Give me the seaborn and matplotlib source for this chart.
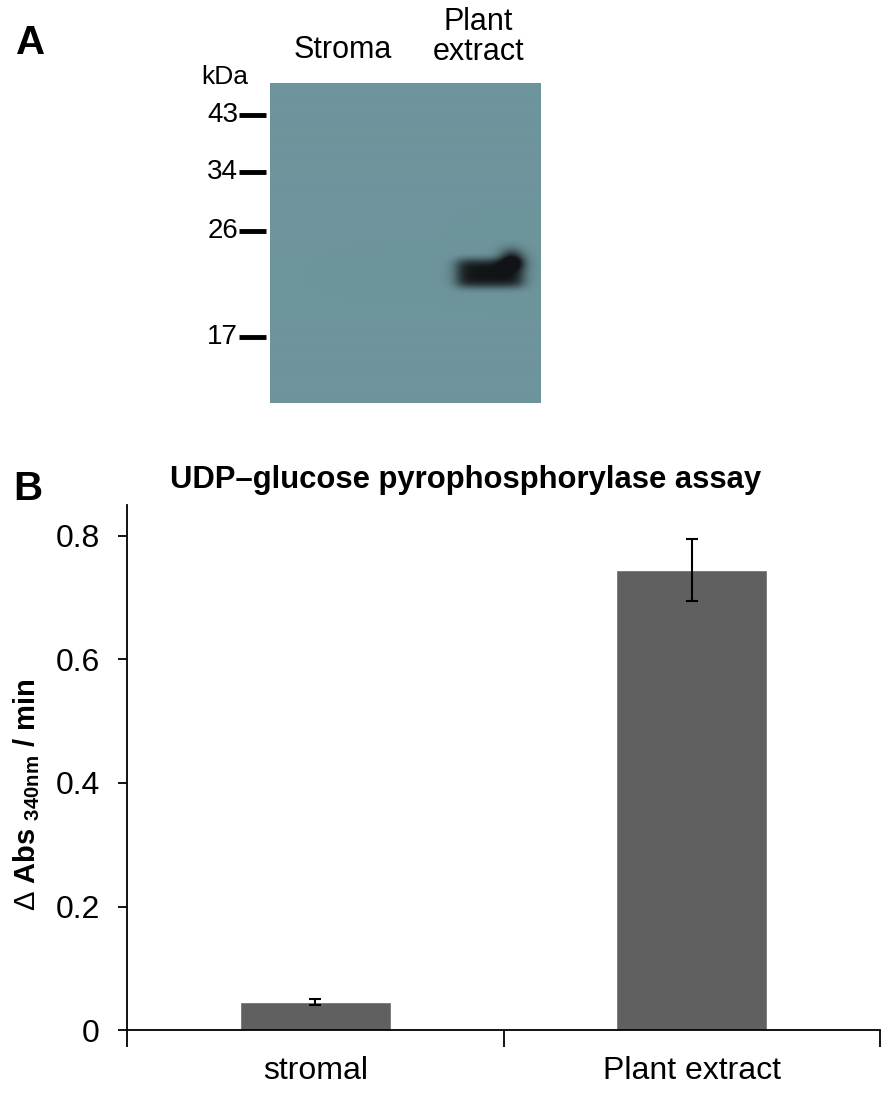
import numpy as np
import pandas as pd
import seaborn as sns
import matplotlib.pyplot as plt

# -------------------------------------------------------------------
# Data
# -------------------------------------------------------------------

# Panel A: western blot
lanes = ["Stroma", "Plant\nextract"]
marker_kda = [43, 34, 26, 17]
# migration distance of the markers as fraction of gel height (from top)
marker_migration = [0.10, 0.278, 0.462, 0.793]
band_lane = 1
band_migration = 0.594

# Panel B: UGPase assay
categories = ["stromal", "Plant extract"]
activity = [0.045, 0.745]
activity_err = [0.005, 0.05]

# -------------------------------------------------------------------
# Style
# -------------------------------------------------------------------

sns.set_style("ticks")
plt.rcParams["font.family"] = ["Liberation Sans", "DejaVu Sans"]
plt.rcParams["text.color"] = "black"
plt.rcParams["axes.labelcolor"] = "black"
plt.rcParams["xtick.color"] = "black"
plt.rcParams["ytick.color"] = "black"
plt.rcParams["axes.edgecolor"] = "black"
plt.rcParams["mathtext.fontset"] = "custom"
plt.rcParams["mathtext.rm"] = "Liberation Sans"
plt.rcParams["mathtext.bf"] = "Liberation Sans:bold"

fig = plt.figure(figsize=(8.92, 10.93), dpi=100)

# -------------------------------------------------------------------
# Panel A: blot
# -------------------------------------------------------------------

ax_blot = fig.add_axes([0.3027, 0.6313, 0.3038, 0.2928])

# build a blot image: flat background and one dark band
ny, nx = 320, 271
yy, xx = np.mgrid[0:ny, 0:nx] / np.array([ny, nx])[:, None, None]
lane_centres = np.array([0.27, 0.80])
bx = lane_centres[band_lane]
band = (1 / (1 + np.exp(-(xx - (bx - 0.11)) / 0.015))) \
    * (1 / (1 + np.exp((xx - (bx + 0.13)) / 0.015))) \
    * np.exp(-((yy - band_migration) / 0.045) ** 4)
bump = np.exp(-((xx - (bx + 0.09)) / 0.045) ** 2 - ((yy - (band_migration - 0.045)) / 0.03) ** 2)
band = np.clip(band + 0.85 * bump, 0, 1)
bg = np.array([0x6e, 0x94, 0x9c]) / 255
dark = np.array([0.07, 0.08, 0.09])
img = bg[None, None, :] * (1 - band[..., None]) + dark[None, None, :] * band[..., None]
ax_blot.imshow(img, extent=[0, 1, 1, 0], aspect="auto")
ax_blot.set_xlim(0, 1)
ax_blot.set_ylim(1, 0)
for s in ax_blot.spines.values():
    s.set_visible(False)
ax_blot.set_xticks([])
ax_blot.set_yticks([])

# size markers: short black dashes left of the gel
for kda, m in zip(marker_kda, marker_migration):
    ax_blot.plot([-0.115, -0.015], [m, m], color="black", lw=3.5,
                 solid_capstyle="butt", clip_on=False)
    ax_blot.text(-0.118, m, str(kda), ha="right", va="center", fontsize=20)

ax_blot.text(0.27, 1.055, lanes[0], transform=ax_blot.transAxes, ha="center",
             va="bottom", fontsize=22)
ax_blot.text(0.77, 1.05, lanes[1], transform=ax_blot.transAxes, ha="center",
             va="bottom", fontsize=22, linespacing=1.0)
ax_blot.text(-0.08, 0.98, "kDa", transform=ax_blot.transAxes, ha="right",
             va="bottom", fontsize=19)

fig.text(0.018, 0.961, "A", fontsize=29, fontweight="bold", ha="left", va="center")
fig.text(0.015, 0.553, "B", fontsize=29, fontweight="bold", ha="left", va="center")

# -------------------------------------------------------------------
# Panel B: bar chart
# -------------------------------------------------------------------

ax = fig.add_axes([0.1424, 0.0576, 0.8442, 0.4803])
df = pd.DataFrame({"sample": categories, "activity": activity})
sns.barplot(data=df, x="sample", y="activity", color="#606060",
            saturation=1, width=0.4, ax=ax)
ax.errorbar(range(len(categories)), activity, yerr=activity_err, fmt="none",
            ecolor="black", elinewidth=1.5, capsize=4, capthick=1.5)

ax.set_xlim(-0.5, len(categories) - 0.5)
ax.set_ylim(0, 0.85)
ax.set_yticks([0, 0.2, 0.4, 0.6, 0.8])
ax.set_yticklabels(["0", "0.2", "0.4", "0.6", "0.8"], fontsize=23)

# category boundaries as major ticks, labels on minor ticks
ax.set_xticks(np.arange(-0.5, len(categories)))
ax.set_xticklabels([])
ax.set_xticks(range(len(categories)), minor=True)
ax.set_xticklabels(categories, minor=True, fontsize=23)
ax.tick_params(axis="x", which="major", length=12, width=1.3, direction="out")
ax.tick_params(axis="x", which="minor", length=0, pad=19)
ax.tick_params(axis="y", length=6.5, width=1.3, direction="out", pad=13)

sns.despine(ax=ax)
for s in ["left", "bottom"]:
    ax.spines[s].set_linewidth(1.3)

ax.set_xlabel("")
ax.set_ylabel(r"$\Delta$ Abs $_{\mathbf{340nm}}$ / min", fontsize=21,
              fontweight="bold")
ax.yaxis.set_label_coords(-0.113, 0.448)
ax.set_title("UDP\u2013glucose pyrophosphorylase assay",
             fontsize=22.3, fontweight="bold", pad=12, x=0.45)

fig.savefig("out.png", dpi=100)
